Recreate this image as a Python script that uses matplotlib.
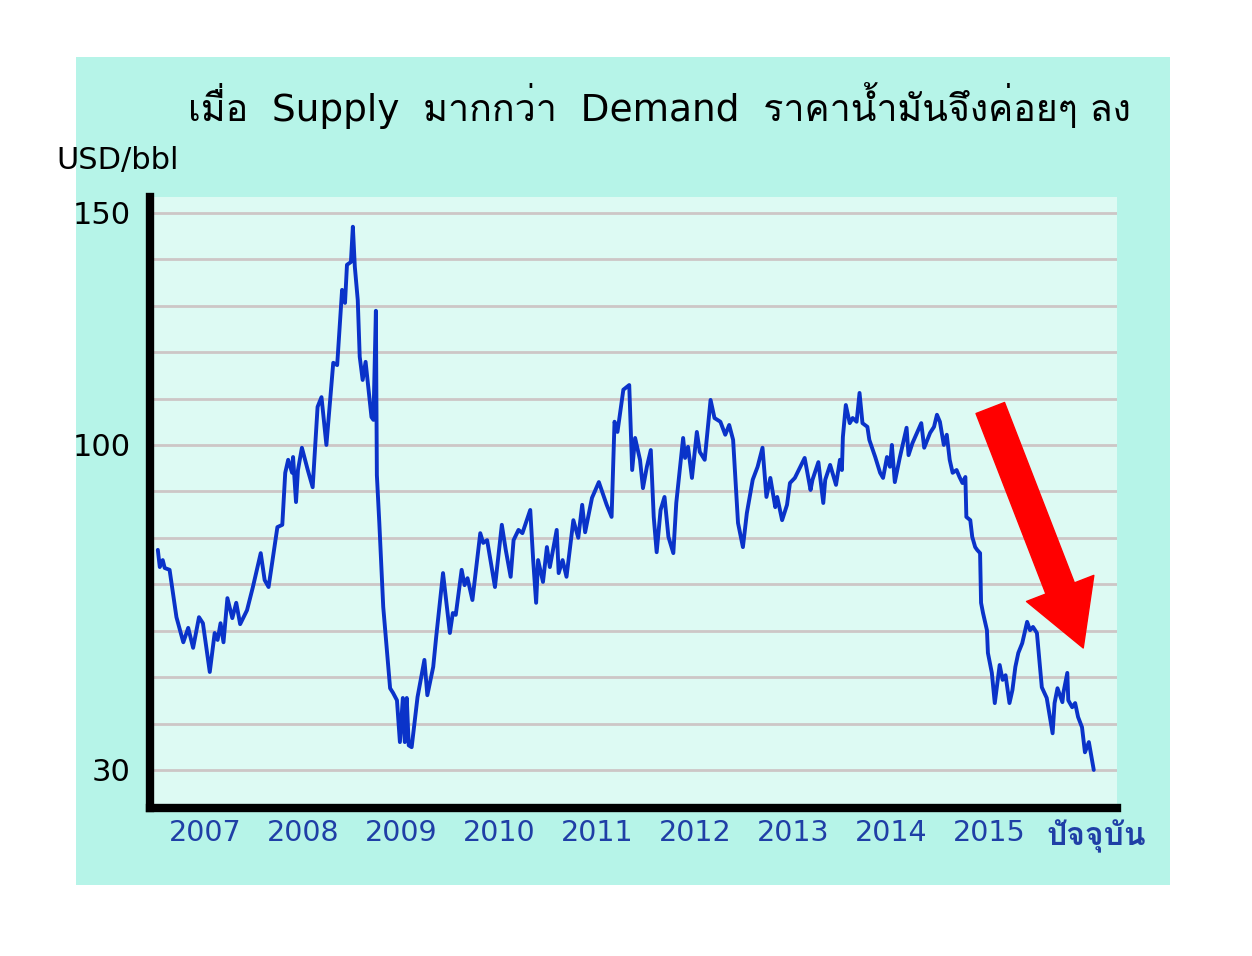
import matplotlib
matplotlib.use("Agg")
import matplotlib.pyplot as plt
from matplotlib import font_manager
from matplotlib.ft2font import FT2Font
from matplotlib.patches import Rectangle

# oil price (USD/bbl); x as decimal year
years = [2006.52, 2006.54, 2006.57, 2006.59, 2006.64, 2006.71, 2006.78, 2006.83, 2006.88, 2006.94,
         2006.98, 2007.05, 2007.10, 2007.13, 2007.16, 2007.19, 2007.23, 2007.28, 2007.32, 2007.36,
         2007.43, 2007.49, 2007.57, 2007.61, 2007.65, 2007.68, 2007.74, 2007.79, 2007.82, 2007.85,
         2007.89, 2007.90, 2007.93, 2007.95, 2007.99, 2008.05, 2008.10, 2008.15, 2008.19, 2008.24,
         2008.31, 2008.35, 2008.40, 2008.43, 2008.45, 2008.49, 2008.51, 2008.53, 2008.56, 2008.58,
         2008.61, 2008.64, 2008.70, 2008.72, 2008.745, 2008.755, 2008.78, 2008.82, 2008.89, 2008.92,
         2008.96, 2008.99, 2009.02, 2009.04, 2009.06, 2009.08, 2009.11, 2009.17, 2009.24, 2009.27,
         2009.33, 2009.36, 2009.43, 2009.50, 2009.53, 2009.56, 2009.62, 2009.65, 2009.68, 2009.73,
         2009.81, 2009.84, 2009.88, 2009.96, 2010.03, 2010.07, 2010.12, 2010.15, 2010.20, 2010.24,
         2010.32, 2010.35, 2010.38, 2010.40, 2010.45, 2010.49, 2010.52, 2010.59, 2010.61, 2010.65,
         2010.69, 2010.76, 2010.81, 2010.85, 2010.88, 2010.95, 2011.02, 2011.10, 2011.15, 2011.18,
         2011.21, 2011.27, 2011.33, 2011.36, 2011.39, 2011.44, 2011.47, 2011.51, 2011.55, 2011.58,
         2011.61, 2011.65, 2011.69, 2011.73, 2011.78, 2011.81, 2011.88, 2011.90, 2011.93, 2011.97,
         2012.02, 2012.05, 2012.10, 2012.16, 2012.20, 2012.26, 2012.31, 2012.35, 2012.39, 2012.44,
         2012.49, 2012.53, 2012.59, 2012.64, 2012.69, 2012.73, 2012.77, 2012.82, 2012.84, 2012.89,
         2012.94, 2012.97, 2013.02, 2013.06, 2013.12, 2013.18, 2013.20, 2013.26, 2013.31, 2013.33,
         2013.38, 2013.44, 2013.48, 2013.50, 2013.51, 2013.54, 2013.58, 2013.61, 2013.65, 2013.68,
         2013.71, 2013.76, 2013.78, 2013.84, 2013.89, 2013.92, 2013.96, 2013.99, 2014.01, 2014.04,
         2014.09, 2014.16, 2014.18, 2014.22, 2014.31, 2014.34, 2014.40, 2014.44, 2014.47, 2014.50,
         2014.54, 2014.57, 2014.60, 2014.63, 2014.67, 2014.70, 2014.73, 2014.76, 2014.77, 2014.81,
         2014.83, 2014.86, 2014.88, 2014.91, 2014.92, 2014.94, 2014.98, 2014.99, 2015.03, 2015.06,
         2015.11, 2015.14, 2015.17, 2015.21, 2015.24, 2015.27, 2015.30, 2015.34, 2015.39, 2015.42,
         2015.45, 2015.49, 2015.54, 2015.59, 2015.65, 2015.67, 2015.70, 2015.75, 2015.76, 2015.80,
         2015.81, 2015.85, 2015.88, 2015.91, 2015.95, 2015.98, 2016.02, 2016.07]
prices = [77.4, 73.7, 75.2, 73.5, 73.1, 62.9, 57.5, 60.6, 56.3, 62.9,
          61.6, 51.1, 59.5, 58.0, 61.6, 57.5, 67.0, 62.7, 66.0, 61.4,
          64.4, 69.4, 76.7, 70.9, 69.4, 73.7, 82.3, 82.8, 94.0, 96.8,
          94.0, 97.4, 87.7, 94.6, 99.4, 94.6, 90.9, 108.2, 110.3, 100.0,
          117.7, 117.2, 133.4, 130.6, 138.8, 139.4, 147.0, 138.4, 131.2, 119.0,
          114.0, 117.9, 106.0, 105.4, 128.9, 93.5, 83.2, 65.1, 47.6, 46.6,
          45.0, 36.0, 45.5, 36.0, 45.5, 35.3, 34.9, 45.7, 53.7, 46.1,
          52.2, 58.6, 72.4, 59.5, 63.8, 63.4, 73.1, 69.8, 71.3, 66.6,
          81.0, 78.9, 79.5, 69.4, 82.8, 77.4, 71.6, 79.5, 81.7, 81.0,
          86.0, 75.2, 66.0, 75.2, 70.5, 78.0, 73.7, 81.7, 72.4, 75.2,
          71.6, 83.8, 80.0, 87.1, 81.2, 88.6, 92.0, 87.1, 84.5, 105.0,
          102.8, 111.9, 112.9, 94.6, 101.5, 96.8, 90.7, 95.3, 98.9, 84.5,
          76.9, 86.0, 88.8, 80.2, 76.7, 87.5, 101.5, 97.2, 99.6, 92.9,
          102.8, 98.5, 96.8, 109.7, 105.8, 105.0, 102.2, 104.3, 101.1, 83.2,
          78.0, 85.3, 92.5, 95.3, 99.4, 88.8, 92.9, 86.6, 88.8, 83.8,
          87.1, 91.8, 92.9, 94.6, 97.2, 90.3, 92.5, 96.3, 87.5, 92.5,
          95.7, 91.4, 96.8, 94.6, 101.7, 108.6, 104.7, 105.8, 105.0, 111.2,
          104.7, 103.9, 101.1, 97.4, 94.0, 92.9, 97.4, 95.3, 100.0, 92.0,
          97.2, 103.7, 97.8, 100.4, 104.7, 99.4, 102.6, 103.9, 106.5, 105.0,
          100.0, 102.2, 96.8, 94.0, 94.6, 93.1, 91.8, 93.1, 84.5, 83.8,
          80.2, 78.0, 77.4, 76.7, 66.0, 63.8, 60.1, 55.2, 50.9, 44.4,
          52.6, 49.4, 50.4, 44.4, 47.2, 52.2, 55.2, 57.3, 61.9, 60.1,
          60.8, 59.5, 47.8, 45.5, 37.9, 44.4, 47.6, 44.6, 46.6, 50.9,
          45.0, 43.5, 44.4, 41.4, 39.2, 33.8, 36.0, 30.0]

tick_years = [2007, 2008, 2009, 2010, 2011, 2012, 2013, 2014, 2015, 2016.1]
tick_labels = ["2007", "2008", "2009", "2010", "2011", "2012", "2013", "2014", "2015", "ปัจจุบัน"]
grid_levels = list(range(30, 151, 10))
shown_levels = [30, 100, 150]

title = "เมื่อ  Supply  มากกว่า  Demand  ราคาน้ำมันจึงค่อยๆ ลง"


def find_thai_font():
	"""Return the family name of an installed font that has Thai glyphs, or None."""
	for f in font_manager.fontManager.ttflist:
		try:
			cmap = FT2Font(f.fname).get_charmap()
		except Exception:
			continue
		if 0x0E40 in cmap and 0x0E21 in cmap:
			return f.name
	return None


thai = find_thai_font()
families = ["DejaVu Sans"]
if thai is not None:
	families = ["DejaVu Sans", thai]
plt.rcParams["font.family"] = families

fig = plt.figure(figsize=(12.52, 9.56), dpi=100)
fig.patch.set_facecolor("white")
# cyan card behind everything
fig.add_artist(Rectangle((0.0607, 0.0743), 0.8738, 0.866, transform=fig.transFigure,
                         facecolor="#b6f4e8", edgecolor="none", zorder=-10))

ax = fig.add_axes([0.1198, 0.1548, 0.7726, 0.6391])
ax.set_zorder(1)
ax.set_facecolor("#ddfaf3")
ax.plot(years, prices, color="#0a33c9", linewidth=2.8, solid_joinstyle="round",
        solid_capstyle="round", zorder=3)

ax.set_xlim(2006.44, 2016.31)
ax.set_ylim(21.8, 153.4)

ax.set_yticks(grid_levels)
ax.set_yticklabels([str(v) if v in shown_levels else "" for v in grid_levels], fontsize=22)
ax.set_xticks(tick_years)
ax.set_xticklabels(tick_labels, fontsize=20.5, color="#1f3fa6")
ax.get_xticklabels()[-1].set_fontsize(23)
ax.get_xticklabels()[-1].set_fontweight("bold")
ax.tick_params(axis="both", length=0)
ax.tick_params(axis="y", pad=14)
ax.tick_params(axis="x", pad=8)
ax.grid(axis="y", color="#cdc6c6", linewidth=2)
ax.set_axisbelow(True)

for side in ["top", "right"]:
	ax.spines[side].set_visible(False)
for side in ["left", "bottom"]:
	ax.spines[side].set_linewidth(6)
	ax.spines[side].set_color("black")

ax.annotate("", xy=(0.9648, 0.2619), xytext=(0.8687, 0.6547), xycoords="axes fraction",
            arrowprops=dict(arrowstyle="simple,head_length=2.3,head_width=2.6,tail_width=1.1",
                            color="#ff0000", mutation_scale=20, shrinkA=0, shrinkB=0))

fig.text(0.527, 0.890, title, fontsize=27, ha="center", va="center")
fig.text(0.045, 0.832, "USD/bbl", fontsize=22, ha="left", va="center")

plt.savefig("out.png", dpi=100)
plt.close()
